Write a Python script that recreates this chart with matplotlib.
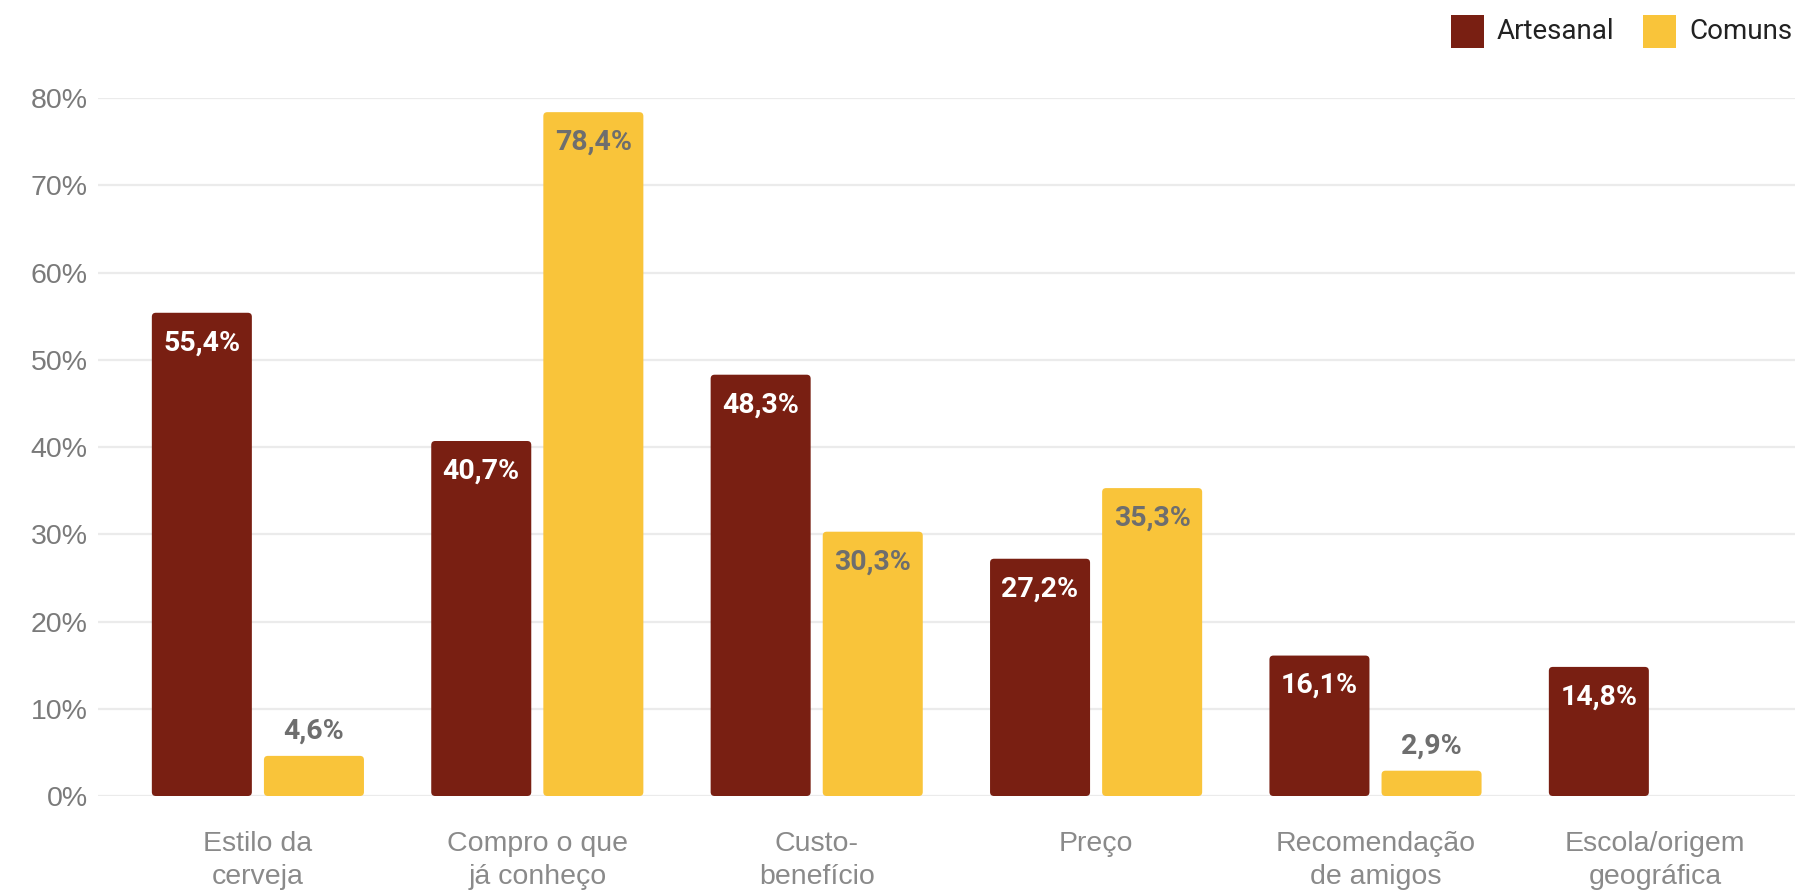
import numpy as np
import matplotlib
matplotlib.use("Agg")
import matplotlib.pyplot as plt
from matplotlib.patches import FancyBboxPatch, Rectangle

# Survey data: purchase motivation, craft vs. regular beer drinkers
categories = ["Estilo da\ncerveja", "Compro o que\njá conheço", "Custo-\nbenefício",
              "Preço", "Recomendação\nde amigos", "Escola/origem\ngeográfica"]
artesanal = [55.4, 40.7, 48.3, 27.2, 16.1, 14.8]
comuns = [4.6, 78.4, 30.3, 35.3, 2.9, np.nan]
series_names = ["Artesanal", "Comuns"]
y_ticks = [0, 10, 20, 30, 40, 50, 60, 70, 80]

RED = "#791F12"
YELLOW = "#F9C43A"
GRID = "#EBEBEB"
TICK_COLOR = "#7A7A7A"
XLAB_COLOR = "#8A8A8A"
GRAY_LABEL = "#6E6E6E"

W, H, DPI = 1795, 891, 100
fig = plt.figure(figsize=(W / DPI, H / DPI), dpi=DPI)
fig.patch.set_facecolor("white")

# axes box in pixels
left_px, right_px = 98, 1795
zero_px, top_px = 796, 98.2  # y of 0% and 80% from the top
ax = fig.add_axes([left_px / W, (H - zero_px) / H,
                   (right_px - left_px) / W, (zero_px - top_px) / H])

x = np.arange(len(categories))
step_px = 279.4
first_center_px = 257.9
ax.set_xlim(-(first_center_px - left_px) / step_px,
            (right_px - first_center_px) / step_px)
ax.set_ylim(0, 80)

bar_w = 0.358
off = 0.2006

bars_a = ax.bar(x - off, artesanal, bar_w, color=RED, label=series_names[0], zorder=3)
bars_c = ax.bar(x + off, comuns, bar_w, color=YELLOW, label=series_names[1], zorder=3)

# swap the plain rectangles for rounded ones
px_per_unit_y = (zero_px - top_px) / 80.0
aspect = step_px / px_per_unit_y
radius = 4.0 / step_px
for container in (bars_a, bars_c):
    for rect in container:
        h = rect.get_height()
        if not np.isfinite(h) or h <= 0:
            rect.set_visible(False)
            continue
        fb = FancyBboxPatch((rect.get_x(), rect.get_y()), rect.get_width(), h,
                            boxstyle=f"round,pad=0,rounding_size={radius}",
                            mutation_aspect=aspect,
                            facecolor=rect.get_facecolor(), edgecolor="none",
                            zorder=3)
        ax.add_patch(fb)
        rect.set_visible(False)


def fmt(v):
    return f"{v:.1f}".replace(".", ",") + "%"


label_font = dict(family=["Roboto", "DejaVu Sans"], fontweight="bold", fontsize=20.5)
for container, inside_color in ((bars_a, "white"), (bars_c, GRAY_LABEL)):
    for rect in container:
        v = rect.get_height()
        if not np.isfinite(v) or v <= 0:
            continue
        cx = rect.get_x() + rect.get_width() / 2
        if v > 10:
            ax.annotate(fmt(v), (cx, v), xytext=(0, -30 * 0.72), textcoords="offset points",
                        ha="center", va="center", color=inside_color, zorder=4, **label_font)
        else:
            ax.annotate(fmt(v), (cx, v), xytext=(0, 25 * 0.72), textcoords="offset points",
                        ha="center", va="center", color=GRAY_LABEL, zorder=4, **label_font)

# grid and axes styling
ax.set_yticks(y_ticks)
ax.set_yticklabels([f"{t}%" for t in y_ticks])
ax.yaxis.grid(True, color=GRID, linewidth=1.6, zorder=0)
ax.set_axisbelow(True)
for s in ax.spines.values():
    s.set_visible(False)
ax.tick_params(axis="y", length=0, pad=7.5, labelsize=20.5, labelcolor=TICK_COLOR)
ax.tick_params(axis="x", length=0, pad=25.5, labelsize=20.5, labelcolor=XLAB_COLOR)
for lab in ax.get_yticklabels():
    lab.set_family(["Liberation Sans", "DejaVu Sans"])
ax.set_xticks(x)
ax.set_xticklabels(categories, linespacing=1.32)
for lab in ax.get_xticklabels():
    lab.set_family(["Liberation Sans", "DejaVu Sans"])
    lab.set_verticalalignment("top")

# legend at top right
legend_font = dict(family=["Roboto", "DejaVu Sans"], fontsize=20, color="#222222",
                   va="center", ha="left")
sq = 0.33
entries = [(series_names[0], RED, 1451), (series_names[1], YELLOW, 1643)]
for name, col, xpx in entries:
    fig.add_artist(Rectangle((xpx / DPI, (H - 48) / DPI), sq, sq,
                             transform=fig.dpi_scale_trans, facecolor=col,
                             edgecolor="none"))
    fig.text((xpx + 46) / DPI, (H - 31.5) / DPI, name,
             transform=fig.dpi_scale_trans, **legend_font)

fig.savefig("out.png", dpi=DPI, facecolor="white")
